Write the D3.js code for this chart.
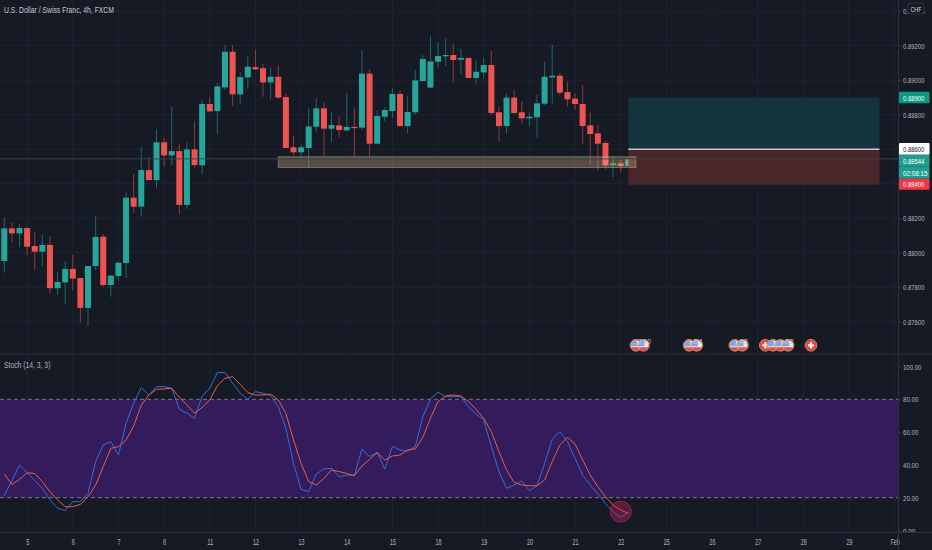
<!DOCTYPE html>
<html>
<head>
<meta charset="utf-8">
<script src="https://cdn.jsdelivr.net/npm/d3@7"></script>
<style>
  html, body { margin: 0; padding: 0; background: #161a25; }
  svg { display: block; }
  text { font-family: "Liberation Sans", sans-serif; }
</style>
</head>
<body>
<svg width="932" height="550"></svg>
<script>
// candles, one 4h bar per entry
const opens = [.87952,.88141,.88112,.88143,.88039,.88006,.88045,.87794,.87828,.87906,
  .87853,.87680,.87923,.88093,.87813,.87865,.87940,.88319,.88267,.88479,
  .88421,.88640,.88564,.88589,.88277,.88599,.88506,.88862,.88821,.88958,
  .89165,.88918,.89016,.89076,.89070,.88987,.89020,.88902,.88611,.88582,
  .88607,.88730,.88837,.88719,.88738,.88709,.88729,.88725,.89038,.88632,
  .88788,.88821,.88920,.88734,.88814,.88995,.88957,.89107,.89138,.89146,
  .89119,.89129,.89013,.89045,.89088,.88814,.88734,.88899,.88814,.88779,
  .88785,.88864,.89016,.89026,.88931,.88893,.88862,.88738,.88692,.88636,
  .88508,.88518,.88503];
const highs = [.88203,.88176,.88164,.88151,.88118,.88105,.88097,.87888,.87952,.87987,
  .87853,.87923,.88213,.88108,.87867,.87948,.88350,.88456,.88611,.88553,
  .88717,.88665,.88846,.88628,.88638,.88763,.88885,.88901,.88986,.89204,
  .89204,.89045,.89136,.89179,.89094,.89072,.89088,.88920,.88676,.88626,
  .88837,.88895,.88873,.88816,.88792,.88924,.88837,.89175,.89063,.88827,
  .88846,.88953,.88939,.88908,.89059,.89146,.89256,.89219,.89243,.89210,
  .89179,.89129,.89117,.89130,.89169,.88850,.88924,.88947,.88877,.88814,
  .88914,.89107,.89204,.89040,.88991,.88924,.88972,.88812,.88744,.88649,
  .88564,.88537,.88545];
const lows = [.87884,.88060,.88035,.87987,.87896,.87919,.87761,.87755,.87703,.87780,
  .87596,.87575,.87900,.87803,.87745,.87836,.87855,.88228,.88209,.88421,
  .88375,.88499,.88508,.88222,.88253,.88495,.88452,.88819,.88686,.88943,
  .88850,.88862,.88953,.89059,.88904,.88889,.88891,.88607,.88564,.88547,
  .88495,.88702,.88560,.88642,.88669,.88709,.88560,.88711,.88560,.88628,
  .88760,.88779,.88731,.88692,.88798,.88991,.88955,.89072,.89082,.88982,
  .89034,.89013,.88978,.89011,.88798,.88644,.88692,.88804,.88750,.88731,
  .88669,.88856,.88862,.88914,.88850,.88827,.88630,.88514,.88476,.88483,
  .88437,.88468,.88503];
const closes = [.88141,.88112,.88143,.88035,.88006,.88045,.87794,.87830,.87906,.87850,
  .87680,.87923,.88091,.87813,.87867,.87942,.88319,.88267,.88479,.88421,
  .88640,.88564,.88589,.88277,.88599,.88508,.88862,.88819,.88964,.89165,
  .88918,.89018,.89078,.89063,.88987,.89020,.88899,.88607,.88582,.88611,
  .88732,.88837,.88719,.88740,.88711,.88729,.88725,.89038,.88632,.88792,
  .88827,.88920,.88734,.88816,.88999,.89123,.89109,.89140,.89146,.89117,
  .89129,.89013,.89049,.89088,.88810,.88734,.88899,.88810,.88779,.88788,
  .88866,.89020,.89026,.88928,.88889,.88862,.88734,.88688,.88632,.88506,
  .88518,.88503,.88544];

// stochastic %K and %D
const stochK = [21.2,30.4,39.9,35.2,30.4,25.7,18.6,13.5,12.1,17.6,
  17.6,22.6,42.0,52.1,54.2,46.0,65.3,77.6,87.1,82.6,
  87.7,87.7,86.7,73.9,71.5,68.4,82.0,86.7,96.3,96.3,
  89.8,83.7,80.0,84.7,83.7,82.2,75.5,62.3,40.9,25.1,
  23.7,34.5,37.5,37.9,32.8,33.8,33.6,49.7,45.0,47.7,
  37.3,51.3,49.1,48.4,51.1,69.4,80.2,84.3,81.6,81.6,
  81.6,75.5,71.0,67.4,51.1,35.9,25.7,27.7,30.2,24.3,
  27.3,40.9,55.6,60.3,54.2,44.0,33.8,27.7,22.2,16.5,
  11.4,7.8,11.0];
const stochD = [34.4,28.1,31.2,35.2,34.8,29.8,23.7,18.6,14.5,14.5,
  15.9,20.6,27.7,38.9,50.1,51.1,55.2,63.7,76.5,82.6,
  86.1,86.3,86.7,81.2,76.5,71.5,75.1,79.6,88.3,92.8,
  93.8,89.1,84.1,82.6,82.6,83.2,79.6,71.5,55.2,40.9,
  29.8,27.7,31.8,36.9,35.9,34.8,33.4,39.3,43.4,47.4,
  43.0,45.4,46.0,49.1,49.7,56.8,68.4,78.6,82.0,82.6,
  82.0,78.6,73.9,68.4,60.3,48.1,36.9,29.3,27.7,27.3,
  27.3,30.8,42.0,52.1,56.8,52.7,43.0,33.8,26.7,20.6,
  15.5,12.5,10.4];

// axis ticks
const priceTicks = [.876,.878,.880,.882,.884,.886,.888,.890,.892,.894];
const stochTicks = [0,20,40,60,80,100];
const dayLabels = ["5","6","7","8","11","12","13","14","15","18","19","20","21","22","25","26","27","28","29","Feb"];
const dayBars = dayLabels.map((d, i) => 3 + i * 6);

// drawings on the chart
const zoneBars = [36, 83];
const zonePrices = [.88556, .88494];
const positionBars = [82, 115];
const targetPrice = .8890, entryPrice = .8860, stopPrice = .88394;
const lastPrice = .88544;
const circleBar = 81, circleValue = 11.5;

// economic calendar badges
const eventBars = [83,84,90,91,96,97,100,101,102,103,106];
const eventFlags = ["us","us","us","us","us","us","ch","us","us","us","ch"];
const eventCountBars = [84,91,97,103];
const eventCounts = ["2 10","8 4","4 8","4 2"];

// price tags on the axis
const tagLabels = ["0.88900", "0.88600", "0.88544", "02:08:15", "0.88400"];
const tagTops = [91.7, 143, 154.7, 166.7, 178.7];
const tagHeights = [11.6, 11.7, 12, 12, 11];
const tagFills = ["#089981", "#ffffff", "#1f9e8f", "#1f9e8f", "#f23645"];
const tagText = ["#fff", "#131722", "#fff", "#fff", "#fff"];

// dimensions
const chartRight = 898;
const x = d3.scaleLinear().domain([0, 100]).range([4.3, 765.3]);
const y = d3.scaleLinear().domain([.876, .892]).range([321.7, 45.7]);
const yStoch = d3.scaleLinear().domain([0, 100]).range([530.5, 366.5]);

const background = "#161a25";
const green = "#26a69a", red = "#ef5350";
const gridColor = "#1f2330", borderColor = "#2c303b", labelColor = "#b2b5be";

// the chart font is narrower than anything installed, so squeeze the glyphs
function squeeze(sel, perChar) {
  sel.attr("textLength", function() { return this.textContent.length * perChar; })
    .attr("lengthAdjust", "spacingAndGlyphs");
}

const svg = d3.select("svg");

// grid
const grid = svg.append("g").attr("stroke", gridColor).attr("stroke-width", 1);
grid.selectAll(".vgrid")
  .data(dayBars)
  .enter().append("line")
  .attr("x1", d => x(d)).attr("x2", d => x(d))
  .attr("y1", 0).attr("y2", 532);
grid.selectAll(".hgrid")
  .data(priceTicks)
  .enter().append("line")
  .attr("x1", 0).attr("x2", chartRight)
  .attr("y1", d => y(d)).attr("y2", d => y(d));

// candles
const bars = svg.append("g");
bars.selectAll(".wick")
  .data(opens)
  .enter().append("line")
  .attr("x1", (d, i) => x(i)).attr("x2", (d, i) => x(i))
  .attr("y1", (d, i) => y(highs[i]))
  .attr("y2", (d, i) => y(lows[i]))
  .attr("stroke", (d, i) => closes[i] >= d ? green : red)
  .attr("stroke-opacity", 0.55);
bars.selectAll(".body")
  .data(opens)
  .enter().append("rect")
  .attr("x", (d, i) => x(i) - 3)
  .attr("width", 6)
  .attr("y", (d, i) => y(Math.max(d, closes[i])))
  .attr("height", (d, i) => Math.max(1.2, Math.abs(y(d) - y(closes[i]))))
  .attr("fill", (d, i) => closes[i] >= d ? green : red);

// long position
svg.append("rect")
  .attr("x", x(positionBars[0])).attr("width", x(positionBars[1]) - x(positionBars[0]))
  .attr("y", y(targetPrice)).attr("height", y(entryPrice) - y(targetPrice))
  .attr("fill", "#14343d");
svg.append("rect")
  .attr("x", x(positionBars[0])).attr("width", x(positionBars[1]) - x(positionBars[0]))
  .attr("y", y(entryPrice)).attr("height", y(stopPrice) - y(entryPrice))
  .attr("fill", "#482629");

// support zone
svg.append("rect")
  .attr("x", x(zoneBars[0])).attr("width", x(zoneBars[1]) - x(zoneBars[0]))
  .attr("y", y(zonePrices[0])).attr("height", y(zonePrices[1]) - y(zonePrices[0]))
  .attr("fill", "#ffd7a0").attr("fill-opacity", 0.27)
  .attr("stroke", "#c9a878").attr("stroke-opacity", 0.5);

// entry and last price lines
svg.append("line")
  .attr("x1", x(positionBars[0])).attr("x2", x(positionBars[1]))
  .attr("y1", y(entryPrice)).attr("y2", y(entryPrice))
  .attr("stroke", "#c4c6cb").attr("stroke-width", 1.4);
svg.append("line")
  .attr("x1", 0).attr("x2", chartRight)
  .attr("y1", y(lastPrice)).attr("y2", y(lastPrice))
  .attr("stroke", "#34474a").attr("stroke-width", 1);

// badges
const defs = svg.append("defs");
const badges = svg.append("g");
eventBars.forEach((bar, i) => {
  const cx = x(bar), cy = 345.3;
  const id = "clip" + i;
  defs.append("clipPath").attr("id", id)
    .append("circle").attr("cx", cx).attr("cy", cy).attr("r", 5.3);
  const g = badges.append("g");
  if (eventFlags[i] === "us") {
    const f = g.append("g").attr("clip-path", `url(#${id})`);
    f.append("rect").attr("x", cx - 6).attr("y", cy - 6).attr("width", 12).attr("height", 12).attr("fill", "#f4e4ea");
    f.append("rect").attr("x", cx - 6).attr("y", cy + 2).attr("width", 12).attr("height", 4).attr("fill", "#e8445f");
    f.append("rect").attr("x", cx - 6).attr("y", cy - 6).attr("width", 7).attr("height", 7).attr("fill", "#7fa6e8");
  } else {
    g.append("circle").attr("cx", cx).attr("cy", cy).attr("r", 5.3).attr("fill", "#ee4455");
    g.append("rect").attr("x", cx - 3).attr("y", cy - 1).attr("width", 6).attr("height", 2).attr("fill", "#fff");
    g.append("rect").attr("x", cx - 1).attr("y", cy - 3).attr("width", 2).attr("height", 6).attr("fill", "#fff");
  }
  g.append("circle").attr("cx", cx).attr("cy", cy).attr("r", 5.8)
    .attr("fill", "none").attr("stroke", "#e89a3c").attr("stroke-width", 1);
});
svg.selectAll(".count")
  .data(eventCounts)
  .enter().append("text")
  .attr("x", (d, i) => x(eventCountBars[i]) + 1)
  .attr("y", 343.5)
  .attr("text-anchor", "middle")
  .attr("font-size", 6.5)
  .attr("fill", "#c5c7cd")
  .text(d => d);

// stochastic pane
svg.append("rect")
  .attr("x", 0).attr("width", chartRight)
  .attr("y", yStoch(80)).attr("height", yStoch(20) - yStoch(80))
  .attr("fill", "#331b5c");
svg.selectAll(".band")
  .data([80, 20])
  .enter().append("line")
  .attr("x1", 0).attr("x2", chartRight)
  .attr("y1", d => yStoch(d)).attr("y2", d => yStoch(d))
  .attr("stroke", "#7d7788").attr("stroke-dasharray", "4 3");

const stochLine = d3.line().x((d, i) => x(i)).y(d => yStoch(d));
svg.append("path").datum(stochK).attr("d", stochLine)
  .attr("fill", "none").attr("stroke", "#2f6fdc").attr("stroke-width", 1);
svg.append("path").datum(stochD).attr("d", stochLine)
  .attr("fill", "none").attr("stroke", "#e8603f").attr("stroke-width", 1);

svg.append("circle")
  .attr("cx", x(circleBar)).attr("cy", yStoch(circleValue)).attr("r", 10.5)
  .attr("fill", "#e0245e").attr("fill-opacity", 0.32)
  .attr("stroke", "#c2185b").attr("stroke-opacity", 0.8);

// right axes
const priceAxis = svg.append("g")
  .attr("transform", `translate(${chartRight},0)`)
  .call(d3.axisRight(y).tickValues(priceTicks).tickFormat(d3.format(".5f")).tickSize(3).tickPadding(2));
const stochAxis = svg.append("g")
  .attr("transform", `translate(${chartRight},0)`)
  .call(d3.axisRight(yStoch).tickValues(stochTicks).tickFormat(d3.format(".2f")).tickSize(3).tickPadding(2));
[priceAxis, stochAxis].forEach(a => {
  a.select(".domain").remove();
  a.selectAll("line").attr("stroke", "#363a45");
  a.selectAll("text").attr("fill", labelColor).attr("font-size", 7.9).call(squeeze, 3.08);
});

// time axis strip covers the lower half of the 0.00 label
svg.append("rect").attr("x", 0).attr("y", 533).attr("width", 932).attr("height", 17).attr("fill", background);
const dayAxis = svg.append("g")
  .attr("transform", "translate(0,532)")
  .call(d3.axisBottom(x).tickValues(dayBars).tickFormat((d, i) => dayLabels[i]).tickSize(0).tickPadding(6.5));
dayAxis.select(".domain").remove();
dayAxis.selectAll("text").attr("fill", labelColor).attr("font-size", 8.5).call(squeeze, 3);

// pane separators and axis border
svg.append("line").attr("x1", 0).attr("x2", 932).attr("y1", 354).attr("y2", 354).attr("stroke", borderColor);
svg.append("line").attr("x1", 0).attr("x2", 932).attr("y1", 532.5).attr("y2", 532.5).attr("stroke", borderColor);
svg.append("line").attr("x1", chartRight + .5).attr("x2", chartRight + .5).attr("y1", 0).attr("y2", 550).attr("stroke", borderColor);

// tags
svg.selectAll(".tag")
  .data(tagLabels)
  .enter().append("rect")
  .attr("x", 899).attr("width", 30.5)
  .attr("y", (d, i) => tagTops[i]).attr("height", (d, i) => tagHeights[i])
  .attr("rx", 1)
  .attr("fill", (d, i) => tagFills[i]);
svg.selectAll(".tagtext")
  .data(tagLabels)
  .enter().append("text")
  .attr("x", 903)
  .attr("y", (d, i) => tagTops[i] + tagHeights[i] / 2 + 3)
  .attr("font-size", (d, i) => i === 3 ? 7.4 : 7.9)
  .attr("fill", (d, i) => tagText[i])
  .text(d => d)
  .call(squeeze, 3.05);

// currency button
svg.append("rect")
  .attr("x", 908).attr("y", 3).attr("width", 16).attr("height", 11).attr("rx", 3)
  .attr("fill", background).attr("stroke", borderColor);
svg.append("text")
  .attr("x", 916).attr("y", 11.5)
  .attr("text-anchor", "middle")
  .attr("font-size", 8)
  .attr("fill", "#d1d4dc")
  .text("CHF")
  .call(squeeze, 3.7);

// titles
svg.append("text")
  .attr("x", 4).attr("y", 13)
  .attr("font-size", 9)
  .attr("fill", "#c4c7cf")
  .text("U.S. Dollar / Swiss Franc, 4h, FXCM")
  .call(squeeze, 3.14);
svg.append("text")
  .attr("x", 4).attr("y", 368)
  .attr("font-size", 8.5)
  .attr("fill", "#b2b5be")
  .text("Stoch (14, 3, 3)")
  .call(squeeze, 2.9);
</script>
</body>
</html>
